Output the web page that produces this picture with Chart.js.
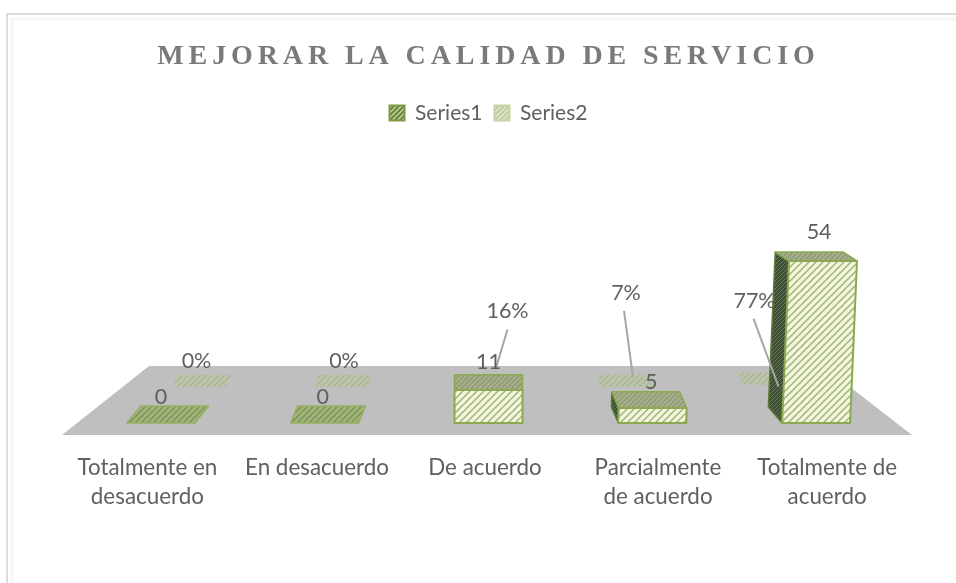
<!DOCTYPE html>
<html>
<head>
<meta charset="utf-8">
<script src="https://cdn.jsdelivr.net/npm/chart.js@4/dist/chart.umd.min.js"></script>
<style>
  html, body { margin: 0; padding: 0; background: #fff; }
  canvas { display: block; }
</style>
</head>
<body>
<canvas id="chart" width="956" height="583"></canvas>
<script>
const categories = [['Totalmente en', 'desacuerdo'], ['En desacuerdo'], ['De acuerdo'], ['Parcialmente', 'de acuerdo'], ['Totalmente de', 'acuerdo']];
const series1 = [0, 0, 11, 5, 54];
const series2 = [0, 0, 0.16, 0.07, 0.77];

// hand placed labels, relative to the bar they belong to
const catLabelShift = [-13.5, -7.7, -3.5, 5.7, 11];
const s1LabelShift = [[0, -9], [-2, -9], [0, -13], [-1, -10], [3, -20]];
const s2LabelShift = [[-3, -14], [2, -14], [23, -63], [-1, -82], [-15, -72]];
// leader lines of the percent labels: [from label, to bar] in px from the bar top
const s2Leaders = [null, null, [[23, -57], [11, -17]], [[-3, -76], [6, -10]], [[-16, -66], [9, 2]]];

const TEXT = '#606060';
const PX_PER_UNIT = 3;
const BACK_BASE = 12;      // back row floor, in value units above the front row

function hatch(bg, fg, size, lw) {
    const c = document.createElement('canvas');
    c.width = c.height = size;
    const g = c.getContext('2d');
    g.fillStyle = bg;
    g.fillRect(0, 0, size, size);
    g.strokeStyle = fg;
    g.lineWidth = lw;
    [[0, size, size, 0], [-size, size, size, -size], [0, 2 * size, 2 * size, 0]].forEach(l => {
        g.beginPath();
        g.moveTo(l[0], l[1]);
        g.lineTo(l[2], l[3]);
        g.stroke();
    });
    return g.createPattern(c, 'repeat');
}

const faces = {
    front: hatch('#f2f8d8', '#a2b184', 7, 1.5),
    top: hatch('#a6ae8a', '#8b9670', 5, 1.2),
    flat: hatch('#a4b382', '#7f9a50', 6, 1.6),
    side: hatch('#3f4f35', '#67775a', 4, 1),
    back: hatch('#bcc4ab', '#a9b594', 6, 1.4),
    legend1: hatch('#dfe8c8', '#6f8c3b', 5, 2.6),
    legend2: hatch('#dde6c8', '#bccb9c', 5, 1.6)
};

function poly(ctx, pts, fill, stroke, lw) {
    ctx.beginPath();
    pts.forEach((p, i) => i ? ctx.lineTo(p[0], p[1]) : ctx.moveTo(p[0], p[1]));
    ctx.closePath();
    ctx.fillStyle = fill;
    ctx.fill();
    if (stroke) {
        ctx.strokeStyle = stroke;
        ctx.lineWidth = lw;
        ctx.lineJoin = 'round';
        ctx.stroke();
    }
}

function backX(el, cx) {
    return cx + (el.x - cx) * 0.87 - 4;
}

// front row cuboid, camera sits over the middle category
function drawFrontBar(ctx, el, cx) {
    const w = el.width / 2;
    const h = el.base - el.y;
    const off = el.x - cx;
    const lean = off * h * 0.00013;
    const dy = 17 - h * 0.05;
    const dx = -off * 0.042;
    const line = '#8aa951';

    const fbl = [el.x - w, el.base], fbr = [el.x + w, el.base];
    const ftl = [el.x - w + lean, el.y], ftr = [el.x + w + lean, el.y];
    const btl = [ftl[0] + dx, el.y - dy], btr = [ftr[0] + dx, el.y - dy];
    const bbl = [fbl[0] + dx, el.base - 16];

    if (h < 1) {
        poly(ctx, [ftl, ftr, btr, btl], faces.flat, '#97b062', 1.5);
        return;
    }
    if (off > 0) {
        poly(ctx, [fbl, ftl, btl, bbl], faces.side, '#5c7a34', 1.5);
    }
    poly(ctx, [ftl, ftr, btr, btl], faces.top, line, 1.5);
    poly(ctx, [fbl, fbr, ftr, ftl], faces.front, line, 2);
}

// back row: series2 is so small it lies flat on the floor
function drawBackBar(ctx, el, cx) {
    const w = el.width * 0.39;
    const x = backX(el, cx);
    const off = el.x - cx;
    const dx = -off * 0.016;
    const top = el.y, d = 12;
    poly(ctx, [[x - w, top], [x + w, top], [x + w + dx, top - d], [x - w + dx, top - d]], faces.back);
}

const bars3d = {
    id: 'bars3d',
    beforeDraw(chart) {
        const ctx = chart.ctx;
        ctx.save();
        ctx.fillStyle = '#ffffff';
        ctx.fillRect(0, 0, chart.width, chart.height);
        // the frame only shows on the left and top, with a faint shadow inside
        ctx.strokeStyle = '#f7f7f7';
        ctx.lineWidth = 4;
        ctx.beginPath();
        ctx.moveTo(12, chart.height);
        ctx.lineTo(12, 19);
        ctx.lineTo(chart.width, 19);
        ctx.stroke();
        ctx.strokeStyle = '#dcdcdc';
        ctx.lineWidth = 2;
        ctx.beginPath();
        ctx.moveTo(7, chart.height);
        ctx.lineTo(7, 14);
        ctx.lineTo(chart.width, 14);
        ctx.stroke();
        ctx.restore();
    },
    beforeDatasetsDraw(chart) {
        const a = chart.chartArea;
        poly(chart.ctx, [[a.left - 17, a.bottom + 12], [a.right + 14, a.bottom + 12], [a.right - 75, a.bottom - 57], [a.left + 70, a.bottom - 57]], '#bfbfbf');
    },
    beforeDatasetDraw(chart, args) {
        const ctx = chart.ctx;
        const cx = chart.scales.x.getPixelForTick(2);
        ctx.save();
        args.meta.data.forEach(el => {
            if (args.index === 0) drawFrontBar(ctx, el, cx);
            else drawBackBar(ctx, el, cx);
        });
        ctx.restore();
        return false;
    },
    afterDatasetsDraw(chart) {
        const ctx = chart.ctx;
        const x = chart.scales.x;
        const cx = x.getPixelForTick(2);
        const front = chart.getDatasetMeta(0).data;
        const back = chart.getDatasetMeta(1).data;
        ctx.save();
        ctx.font = '21.5px Lato';
        ctx.fillStyle = TEXT;
        ctx.textAlign = 'center';
        ctx.textBaseline = 'middle';

        // leaders first so the numbers stay on top
        back.forEach((el, i) => {
            const l = s2Leaders[i];
            if (!l) return;
            const bx = backX(el, cx);
            ctx.strokeStyle = '#a6a6a6';
            ctx.lineWidth = 2;
            ctx.beginPath();
            ctx.moveTo(bx + l[0][0], el.y + l[0][1]);
            ctx.lineTo(bx + l[1][0], el.y + l[1][1]);
            ctx.stroke();
        });

        ctx.fillStyle = TEXT;
        front.forEach((el, i) => {
            const h = el.base - el.y;
            const backTop = el.y - (17 - h * 0.05);
            ctx.fillText(series1[i], el.x + s1LabelShift[i][0], backTop + s1LabelShift[i][1]);
        });
        back.forEach((el, i) => {
            const bx = backX(el, cx);
            ctx.fillText(Math.round(series2[i] * 100) + '%', bx + s2LabelShift[i][0], el.y + s2LabelShift[i][1] - 12);
        });

        // category labels, the perspective spreads them unevenly
        ctx.font = '22.4px Lato';
        categories.forEach((lines, i) => {
            lines.forEach((t, j) => {
                ctx.fillText(t, x.getPixelForTick(i) + catLabelShift[i], chart.chartArea.bottom + 45 + j * 29);
            });
        });
        ctx.restore();
    }
};

const chart = new Chart(document.getElementById('chart'), {
    type: 'bar',
    data: {
        labels: categories,
        datasets: [
            { label: 'Series1', data: series1, yAxisID: 'y', backgroundColor: faces.legend1, borderColor: '#7f9a45', borderWidth: 2 },
            { label: 'Series2', data: series2, yAxisID: 'yBack', backgroundColor: faces.legend2, borderColor: '#c5d4a8', borderWidth: 2 }
        ]
    },
    options: {
        responsive: false,
        animation: false,
        devicePixelRatio: 1,
        grouped: false,
        categoryPercentage: 1,
        barPercentage: 0.415,
        layout: { padding: { left: 79, right: 58, top: 40, bottom: 160 } },
        plugins: {
            title: {
                display: true,
                fullSize: false,
                text: 'MEJORAR LA CALIDAD DE SERVICIO',
                color: '#7a7a7a',
                font: { family: 'Liberation Serif', size: 28, weight: 'bold' },
                padding: { top: 0, bottom: 17 }
            },
            legend: {
                position: 'top',
                fullSize: false,
                labels: { color: TEXT, font: { family: 'Lato', size: 21 }, boxWidth: 15, boxHeight: 15, padding: 12 }
            },
            tooltip: { enabled: false }
        },
        scales: {
            x: { display: false, grid: { display: false } },
            y: { display: false, bounds: 'data', min: 0, max: 100 },
            yBack: { display: false, bounds: 'data', min: -BACK_BASE, max: 100 - BACK_BASE }
        }
    },
    plugins: [bars3d]
});

// keep both value axes at the same px per unit, whatever height the layout left
const area = chart.chartArea;
const span = (area.bottom - area.top) / PX_PER_UNIT;
chart.options.scales.y.max = span;
chart.options.scales.yBack.max = span - BACK_BASE;
chart.update();

// the title is letter spaced, Chart.js has no option for it
const titleDraw = chart.titleBlock.draw;
chart.titleBlock.draw = function () {
    chart.ctx.letterSpacing = '4.9px';
    titleDraw.call(this);
    chart.ctx.letterSpacing = '0px';
};
chart.draw();
</script>
</body>
</html>
